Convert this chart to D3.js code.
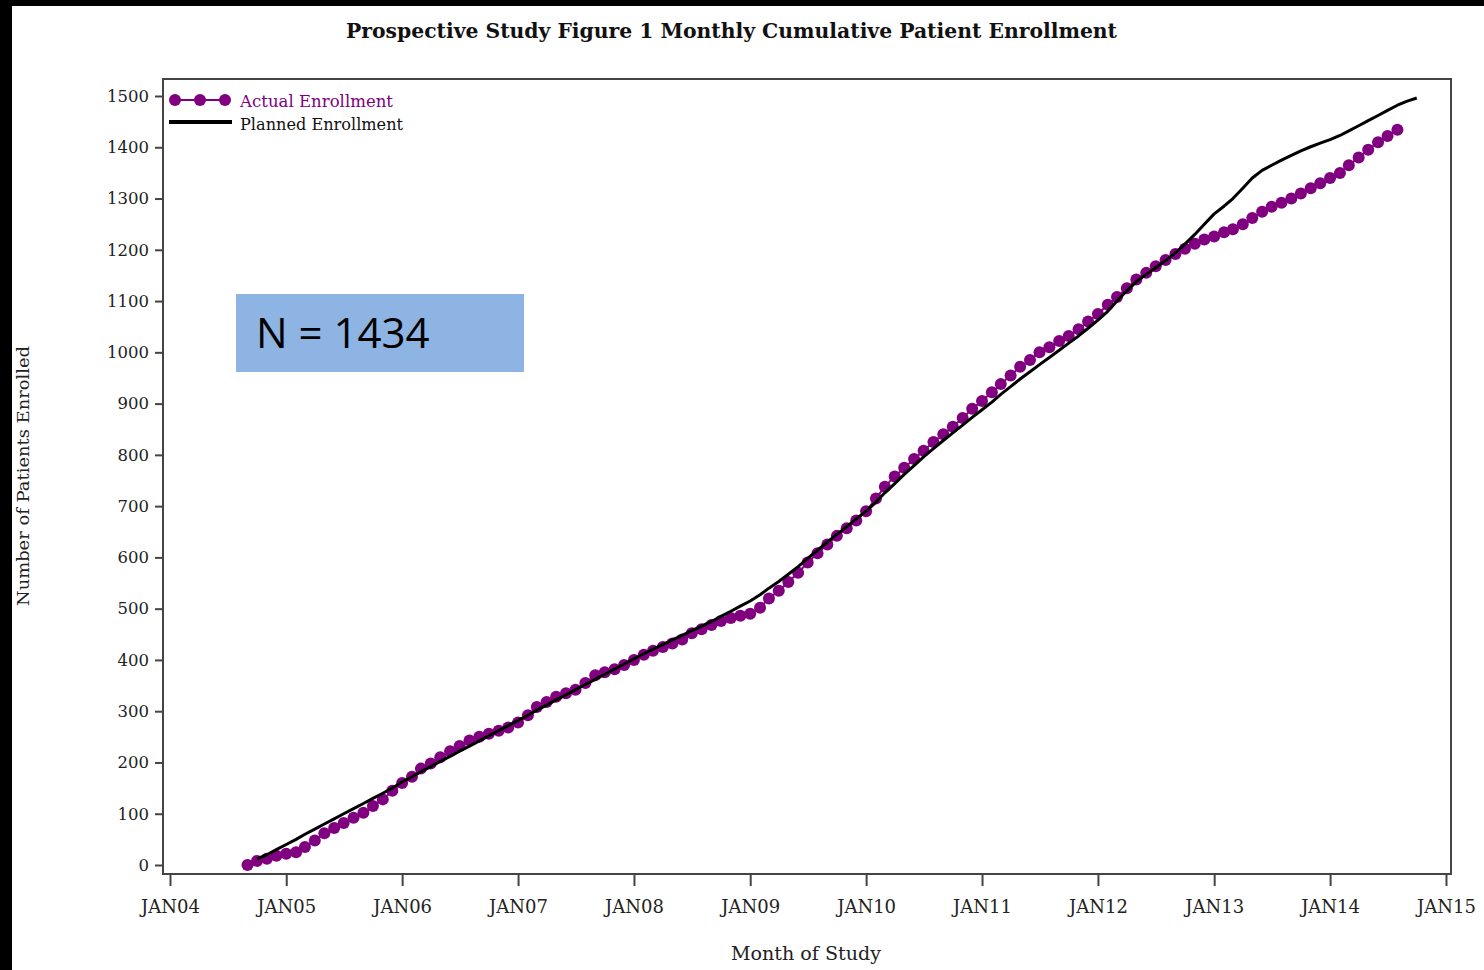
<!DOCTYPE html>
<html>
<head>
<meta charset="utf-8">
<script src="https://cdn.jsdelivr.net/npm/d3@7"></script>
<style>
html,body{margin:0;padding:0;background:#fff;}
svg{display:block;}
</style>
</head>
<body>
<svg id="chart" width="1484" height="970"></svg>
<script>
// ---------------- data ----------------
const actualStart = "2004-09";
const actualValues = [
  0, 8, 12, 18,                                              // Sep04-Dec04
  22, 25, 35, 48, 62, 72, 82, 92, 102, 115, 128, 145,        // 2005
  160, 172, 188, 198, 210, 222, 232, 243, 250, 256, 262, 268,// 2006
  278, 292, 308, 318, 328, 335, 342, 355, 370, 376, 382, 390,// 2007
  400, 410, 418, 425, 432, 440, 452, 460, 468, 476, 482, 486,// 2008
  490, 502, 520, 535, 552, 570, 590, 608, 625, 642, 657, 672,// 2009
  690, 715, 738, 758, 775, 792, 808, 825, 840, 855, 872, 890,// 2010
  905, 922, 938, 955, 972, 985, 1000, 1010, 1022, 1032, 1045, 1060, // 2011
  1075, 1093, 1108, 1125, 1142, 1155, 1168, 1180, 1192, 1202, 1212, 1220, // 2012
  1226, 1234, 1240, 1250, 1262, 1274, 1284, 1292, 1300, 1310, 1320, 1330, // 2013
  1340, 1350, 1365, 1380, 1395, 1410, 1422, 1434            // Jan14-Aug14
];
const plannedStart = "2004-10";
const plannedValues = [
  12, 20, 30,                                                // Oct04-Dec04
  40, 50, 60, 70, 80, 90, 100, 110, 120, 130, 140, 150,      // 2005
  162, 172, 182, 192, 202, 212, 222, 232, 242, 252, 262, 272,// 2006
  282, 292, 302, 312, 322, 332, 342, 352, 362, 372, 382, 392,// 2007
  402, 412, 421, 430, 439, 448, 457, 466, 475, 485, 495, 505,// 2008
  515, 527, 540, 553, 567, 582, 598, 614, 630, 645, 660, 675,// 2009
  690, 708, 726, 744, 762, 779, 796, 812, 828, 843, 858, 873,// 2010
  888, 903, 918, 933, 948, 962, 976, 990, 1004, 1018, 1032, 1047, // 2011
  1063, 1080, 1100, 1120, 1138, 1152, 1165, 1179, 1194, 1211, 1230, 1250, // 2012
  1270, 1285, 1300, 1320, 1340, 1355, 1365, 1375, 1384, 1393, 1401, 1408, // 2013
  1415, 1423, 1432, 1442, 1452, 1462, 1472, 1482, 1490, 1496 // Jan14-Oct14
];
const xTickLabels = ["JAN04","JAN05","JAN06","JAN07","JAN08","JAN09","JAN10","JAN11","JAN12","JAN13","JAN14","JAN15"];
const yTickValues = [0,100,200,300,400,500,600,700,800,900,1000,1100,1200,1300,1400,1500];
const seriesNames = ["Actual Enrollment","Planned Enrollment"];
const titleText = "Prospective Study Figure 1 Monthly Cumulative Patient Enrollment";
const xLabelText = "Month of Study";
const yLabelText = "Number of Patients Enrolled";
const annotationText = "N = 1434";

// ---------------- build ----------------
const parseMonth = d3.timeParse("%Y-%m");
const parseTick = d3.timeParse("JAN%y");
function monthly(start, values){
  const s = parseMonth(start);
  return values.map((v,i)=>({date: d3.timeMonth.offset(s,i), value: v}));
}
const actual = monthly(actualStart, actualValues);
const planned = monthly(plannedStart, plannedValues);
const tickDates = xTickLabels.map(t => parseTick(t));

const svg = d3.select("#chart");
const serif = "'DejaVu Serif', 'Liberation Serif', serif";
const purple = "#800080";

svg.append("rect").attr("width",1484).attr("height",970).attr("fill","#fff");
svg.append("rect").attr("x",0).attr("y",0).attr("width",1484).attr("height",6).attr("fill","#000");
svg.append("rect").attr("x",0).attr("y",0).attr("width",12).attr("height",970).attr("fill","#000");

const frame = {left:163, top:79, right:1451, bottom:874};
const x = d3.scaleTime().domain([tickDates[0], tickDates[tickDates.length-1]]).range([170, 1446]);
const y = d3.scaleLinear().domain([0,1500]).range([865, 96]);

// title
svg.append("text").attr("x",731.5).attr("y",38).attr("text-anchor","middle")
  .attr("font-family",serif).attr("font-weight","bold").attr("font-size",20)
  .attr("textLength",771).attr("lengthAdjust","spacingAndGlyphs")
  .attr("fill","#111").text(titleText);

// frame
svg.append("rect").attr("x",frame.left).attr("y",frame.top)
  .attr("width",frame.right-frame.left).attr("height",frame.bottom-frame.top)
  .attr("fill","none").attr("stroke","#444").attr("stroke-width",2);

// y axis
const yAxis = svg.append("g").attr("transform",`translate(${frame.left},0)`)
  .call(d3.axisLeft(y).tickValues(yTickValues).tickSize(8).tickPadding(6).tickFormat(d3.format("d")));
yAxis.select(".domain").remove();
yAxis.selectAll(".tick line").attr("stroke","#444").attr("stroke-width",2);
yAxis.selectAll(".tick text").attr("font-family",serif).attr("font-size",16.5).attr("fill","#222");

// x axis
const xAxis = svg.append("g").attr("transform",`translate(0,${frame.bottom})`)
  .call(d3.axisBottom(x).tickValues(tickDates).tickSize(12).tickPadding(14)
        .tickFormat((d,i)=>xTickLabels[i]));
xAxis.select(".domain").remove();
xAxis.selectAll(".tick line").attr("stroke","#444").attr("stroke-width",2);
xAxis.selectAll(".tick text").attr("font-family",serif).attr("font-size",18).attr("fill","#222");

// axis labels
svg.append("text").attr("x",806).attr("y",960).attr("text-anchor","middle")
  .attr("font-family",serif).attr("font-size",19).attr("fill","#222")
  .attr("textLength",150).attr("lengthAdjust","spacingAndGlyphs").text(xLabelText);
svg.append("text").attr("transform","translate(29,476) rotate(-90)").attr("text-anchor","middle")
  .attr("font-family",serif).attr("font-size",17).attr("fill","#222")
  .attr("textLength",260).attr("lengthAdjust","spacingAndGlyphs").text(yLabelText);

// lines
const line = d3.line().x(d=>x(d.date)).y(d=>y(d.value));
svg.append("path").datum(actual).attr("d",line).attr("fill","none")
  .attr("stroke",purple).attr("stroke-width",2);
svg.append("g").selectAll("circle").data(actual).join("circle")
  .attr("cx",d=>x(d.date)).attr("cy",d=>y(d.value)).attr("r",6).attr("fill",purple);
svg.append("path").datum(planned).attr("d",line).attr("fill","none")
  .attr("stroke","#000").attr("stroke-width",3).attr("stroke-linejoin","round");

// legend
const lg = svg.append("g");
lg.append("line").attr("x1",170).attr("x2",230).attr("y1",100).attr("y2",100).attr("stroke",purple).attr("stroke-width",2);
lg.selectAll("circle").data([175,200,225]).join("circle")
  .attr("cx",d=>d).attr("cy",100).attr("r",6).attr("fill",purple);
lg.append("text").attr("x",240).attr("y",107).attr("font-family",serif).attr("font-size",17)
  .attr("fill",purple).attr("textLength",153).attr("lengthAdjust","spacingAndGlyphs").text(seriesNames[0]);
lg.append("line").attr("x1",169).attr("x2",232).attr("y1",122).attr("y2",122).attr("stroke","#000").attr("stroke-width",4);
lg.append("text").attr("x",240).attr("y",130).attr("font-family",serif).attr("font-size",17)
  .attr("fill","#111").attr("textLength",163).attr("lengthAdjust","spacingAndGlyphs").text(seriesNames[1]);

// annotation box
svg.append("rect").attr("x",236).attr("y",294).attr("width",288).attr("height",78).attr("fill","#8EB4E3");
svg.append("text").attr("x",256).attr("y",348).attr("font-family","'Open Sans', 'Noto Sans', sans-serif")
  .attr("font-size",42).attr("fill","#000").text(annotationText);
</script>
</body>
</html>
